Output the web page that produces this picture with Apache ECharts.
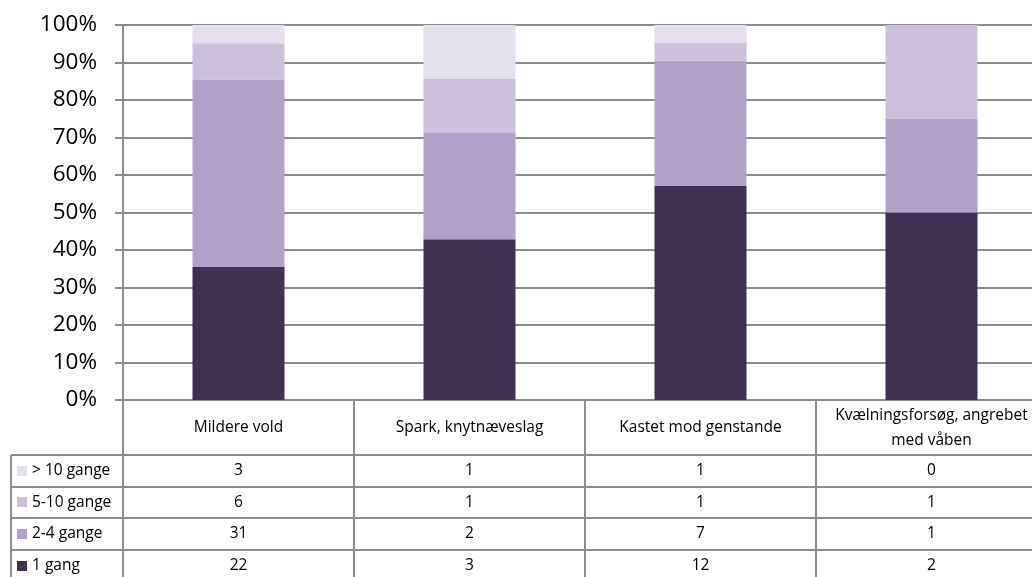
<!DOCTYPE html>
<html>
<head>
<meta charset="utf-8">
<script src="https://cdn.jsdelivr.net/npm/echarts@6/dist/echarts.min.js"></script>
<style>
html,body{margin:0;padding:0;background:#fff;}
#chart{width:1032px;height:577px;}
</style>
</head>
<body>
<div id="chart"></div>
<script>
const categories = ['Mildere vold', 'Spark, knytnæveslag', 'Kastet mod genstande', 'Kvælningsforsøg, angrebet\nmed våben'];
const seriesNames = ['1 gang', '2-4 gange', '5-10 gange', '> 10 gange'];
const gang1 = [22, 3, 12, 2];
const gange2_4 = [31, 2, 7, 1];
const gange5_10 = [6, 1, 1, 1];
const gangeOver10 = [3, 1, 1, 0];
const yTicks = [0, 10, 20, 30, 40, 50, 60, 70, 80, 90, 100];

const colors = ['#403152', '#b1a0c7', '#ccc0da', '#e4dfec'];
const rawSeries = [gang1, gange2_4, gange5_10, gangeOver10];
const totals = categories.map((c, i) => rawSeries.reduce((s, arr) => s + arr[i], 0));
const FONT = 'Open Sans';
const LINE = '#8c8c8c';

const chart = echarts.init(document.getElementById('chart'), null, {renderer: 'canvas'});

const option = {
  animation: false,
  backgroundColor: '#fff',
  grid: {left: 123, top: 25, width: 924, height: 375, containLabel: false, outerBoundsMode: 'none'},
  xAxis: {
    type: 'category',
    data: categories,
    axisLine: {show: true, lineStyle: {color: LINE, width: 2}},
    axisTick: {show: true, length: 177, lineStyle: {color: LINE, width: 2}},
    axisLabel: {
      margin: 28, verticalAlign: 'middle', fontFamily: FONT, fontSize: 15.5,
      color: '#000', lineHeight: 25, interval: 0, hideOverlap: false
    },
    splitLine: {show: false}
  },
  yAxis: {
    type: 'value', min: yTicks[0], max: yTicks[yTicks.length - 1], interval: 10,
    axisLine: {show: true, lineStyle: {color: LINE, width: 2}},
    axisTick: {show: true, length: 8, lineStyle: {color: LINE, width: 2}},
    axisLabel: {formatter: '{value}%', margin: 26, fontFamily: FONT, fontSize: 22.5, color: '#000'},
    splitLine: {show: true, lineStyle: {color: LINE, width: 2}}
  },
  series: rawSeries.map((arr, k) => ({
    name: seriesNames[k],
    type: 'bar',
    stack: 'total',
    barWidth: 92,
    itemStyle: {color: colors[k]},
    data: arr.map((v, i) => v / totals[i] * 100)
  }))
};
chart.setOption(option);

// data table below the plot
function buildTable() {
  const g = [];
  const axisY = chart.convertToPixel({yAxisIndex: 0}, 0);
  const firstRowTop = axisY + 55;
  const rowH = 31.6;
  const leftX = 11;
  const rows = [gangeOver10, gange5_10, gange2_4, gang1];
  const rowNames = ['> 10 gange', '5-10 gange', '2-4 gange', '1 gang'];
  const rowColors = [colors[3], colors[2], colors[1], colors[0]];
  for (let r = 0; r < rows.length; r++) {
    const y = Math.round(firstRowTop + r * rowH);
    g.push({type: 'line', shape: {x1: leftX, y1: y, x2: 1032, y2: y}, style: {stroke: LINE, lineWidth: 2}, silent: true});
  }
  g.push({type: 'line', shape: {x1: leftX, y1: firstRowTop, x2: leftX, y2: 577}, style: {stroke: LINE, lineWidth: 2}, silent: true});
  rows.forEach((arr, r) => {
    const cy = firstRowTop + r * rowH + rowH / 2;
    g.push({type: 'rect', shape: {x: 17, y: Math.round(cy - 5), width: 10, height: 10}, style: {fill: rowColors[r]}, silent: true});
    g.push({type: 'text', x: 32, y: cy, style: {text: rowNames[r], fontFamily: FONT, fontSize: 15.5, fill: '#000', textVerticalAlign: 'middle', textAlign: 'left'}, silent: true});
    arr.forEach((v, i) => {
      const cx = chart.convertToPixel({xAxisIndex: 0}, i);
      g.push({type: 'text', x: cx, y: cy, style: {text: String(v), fontFamily: FONT, fontSize: 15.5, fill: '#000', textVerticalAlign: 'middle', textAlign: 'center'}, silent: true});
    });
  });
  chart.setOption({graphic: {elements: g}});
}
buildTable();
</script>
</body>
</html>
